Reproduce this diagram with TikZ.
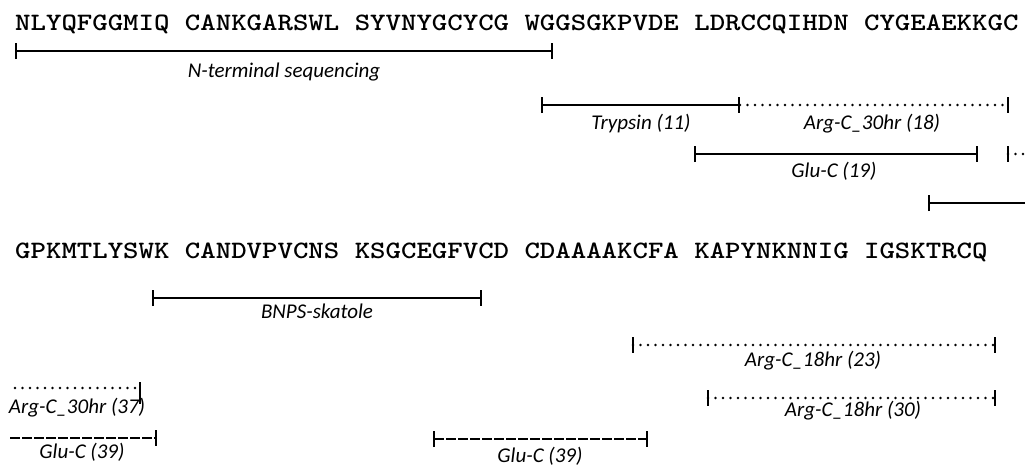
\documentclass[tikz,border=0pt]{standalone}
\usepackage{fontspec}
\usepackage{graphicx}
\usetikzlibrary{arrows.meta}
\newfontfamily\labfont{Carlito}
\begin{document}
\begin{tikzpicture}[x=1pt,y=-1pt,
  seq/.style={anchor=base west, inner sep=0, font=\ttfamily\bfseries\fontsize{25}{25}\selectfont},
  lab/.style={anchor=base, inner sep=0, font=\labfont\itshape\fontsize{21}{21}\selectfont},
  seg/.style={line width=1.8pt},
  both/.style={seg, {Bar[width=16pt]}-{Bar[width=16pt]}},
  rightbar/.style={seg, -{Bar[width=16pt]}},
  leftbar/.style={seg, {Bar[width=16pt]}-},
  tk/.style={line width=1.8pt},
  dotline/.style={line width=2.6pt, line cap=round, dash pattern=on 0pt off 7.5pt},
  dashline/.style={dash pattern=on 10pt off 2pt}
]
\useasboundingbox (0,0) rectangle (1025,467);

% sequences
\node[seq] (s1) at (15,30) {\scalebox{1.176}[1]{NLYQFGGMIQ CANKGARSWL SYVNYGCYCG WGGSGKPVDE LDRCCQIHDN CYGEAEKKGC}};
\node[seq] (s2) at (15,258) {\scalebox{1.176}[1]{GPKMTLYSWK CANDVPVCNS KSGCEGFVCD CDAAAAKCFA KAPYNKNNIG IGSKTRCQ}};

% end points
\coordinate (a1) at (15,51);   \coordinate (a2) at (553,51);
\coordinate (b1) at (541,105); \coordinate (b2) at (740,105); \coordinate (b3) at (1008,105);
\coordinate (c1) at (694,154); \coordinate (c2) at (978,154);
\coordinate (d1) at (1008,154); \coordinate (d2) at (1025,154);
\coordinate (e1) at (928,203); \coordinate (e2) at (1025,203);
\coordinate (f1) at (152,298); \coordinate (f2) at (482,298);
\coordinate (g1) at (633,345); \coordinate (g2) at (995,345);
\coordinate (h1) at (708,398); \coordinate (h2) at (995,398);
\coordinate (i1) at (15,388);  \coordinate (i2) at (140,388);
\coordinate (j1) at (10,438);  \coordinate (j2) at (157,438);
\coordinate (k1) at (433,439); \coordinate (k2) at (648,439);

% segments
\draw[both] (a1) -- (a2);
\draw[both] (b1) -- (b2);
\draw[dotline] (b2) -- (b3);
\draw[tk] (b3) ++(0,-8) -- ++(0,16);
\draw[both] (c1) -- (c2);
\draw[dotline] (d1) -- (d2);
\draw[tk] (d1) ++(0,-8) -- ++(0,16);
\draw[leftbar] (e1) -- (e2);
\draw[both] (f1) -- (f2);
\draw[dotline] (g1) -- (g2);
\draw[tk] (g1) ++(0,-8) -- ++(0,16);
\draw[tk] (g2) ++(0,-8) -- ++(0,16);
\draw[dotline] (h1) -- (h2);
\draw[tk] (h1) ++(0,-8) -- ++(0,16);
\draw[tk] (h2) ++(0,-8) -- ++(0,16);
\draw[dotline] (i1) -- (i2);
\draw[tk] (i2) ++(0,-6) -- ++(0,22);
\draw[rightbar, dashline] (j1) -- (j2);
\draw[both, dashline] (k1) -- (k2);

% labels
\node[lab] (lN) at (284,77) {N-terminal sequencing};
\node[lab] (lT) at (641,129) {Trypsin (11)};
\node[lab] (lA18) at (872,129) {Arg-C\_30hr (18)};
\node[lab] (lG19) at (834,177) {Glu-C (19)};
\node[lab] (lB) at (317,318) {BNPS-skatole};
\node[lab] (lA23) at (813,366) {Arg-C\_18hr (23)};
\node[lab] (lA30) at (853,416) {Arg-C\_18hr (30)};
\node[lab] (lA37) at (77,413) {Arg-C\_30hr (37)};
\node[lab] (lG39a) at (82,458) {Glu-C (39)};
\node[lab] (lG39b) at (540,462) {Glu-C (39)};
\end{tikzpicture}
\end{document}
